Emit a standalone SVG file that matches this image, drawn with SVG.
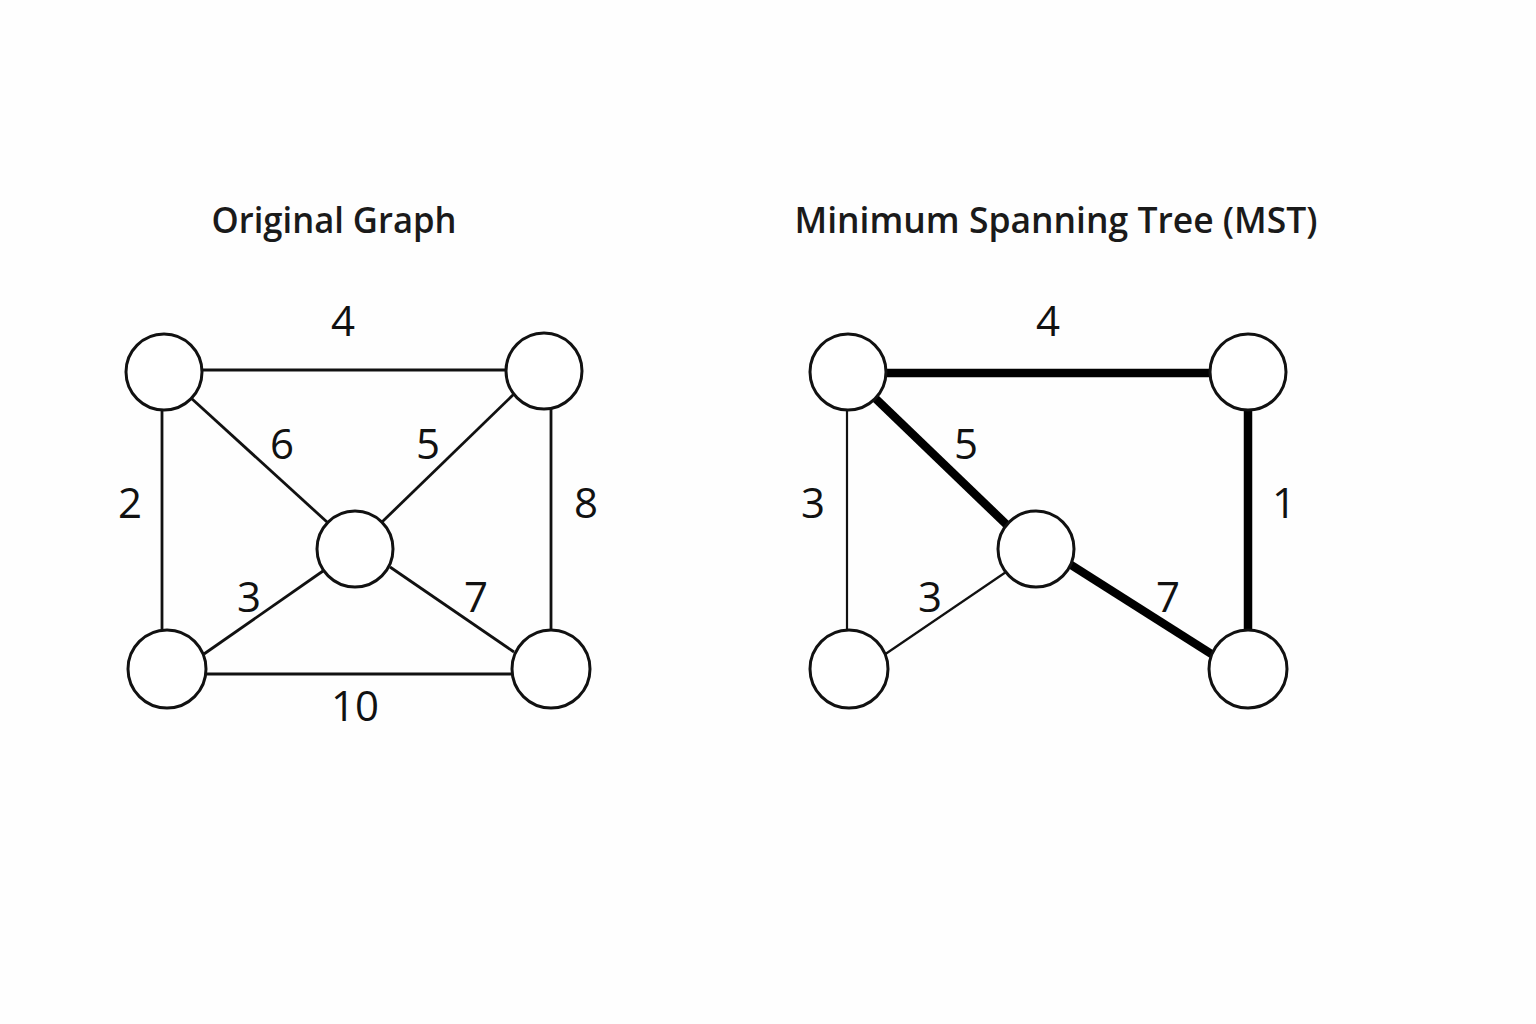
<svg xmlns="http://www.w3.org/2000/svg" width="1536" height="1024" viewBox="0 0 1536 1024">
<style>
.title{font-family:"Open Sans","Noto Sans",sans-serif;font-weight:600;font-size:36px;fill:#1a1a1a;text-anchor:middle}
.lbl{font-family:"Open Sans","Noto Sans",sans-serif;font-size:42px;fill:#111;text-anchor:middle}
.node{fill:#fff;stroke:#111;stroke-width:3}
.e{stroke:#111;stroke-width:2.8;fill:none}
.thin{stroke:#111;stroke-width:2.2;fill:none}
.thick{stroke:#000;stroke-width:8.5;fill:none}
</style>
<rect width="1536" height="1024" fill="#fefefe"/>
<text class="title" x="334" y="233" textLength="245" lengthAdjust="spacingAndGlyphs">Original Graph</text>
<text class="title" x="1056" y="233" textLength="523" lengthAdjust="spacingAndGlyphs">Minimum Spanning Tree (MST)</text>
<g id="connectors">
<line class="e" x1="202" y1="370" x2="506" y2="370"/>
<line class="e" x1="162" y1="409" x2="162" y2="632"/>
<line class="e" x1="551" y1="409" x2="551" y2="632"/>
<line class="e" x1="206" y1="674" x2="513" y2="674"/>
<line class="e" x1="191" y1="398" x2="327" y2="522"/>
<line class="e" x1="514" y1="394" x2="382" y2="522"/>
<line class="e" x1="204" y1="654" x2="323" y2="571"/>
<line class="e" x1="514" y1="652" x2="390" y2="567"/>
<line class="thick" x1="886" y1="373" x2="1210" y2="373"/>
<line class="thick" x1="1248" y1="409" x2="1248" y2="632"/>
<line class="thick" x1="875" y1="398" x2="1008" y2="526"/>
<line class="thick" x1="1068" y1="563" x2="1213" y2="655"/>
<line class="thin" x1="847" y1="410" x2="847" y2="632"/>
<line class="thin" x1="884" y1="655" x2="1006" y2="572"/>
</g>
<g id="n1"><circle class="node" cx="164" cy="372" r="38"/></g>
<g id="n2"><circle class="node" cx="544" cy="371" r="38"/></g>
<g id="n3"><circle class="node" cx="355" cy="549" r="38"/></g>
<g id="n4"><circle class="node" cx="167" cy="669" r="39"/></g>
<g id="n5"><circle class="node" cx="551" cy="669" r="39"/></g>
<g id="m1"><circle class="node" cx="848" cy="372" r="38"/></g>
<g id="m2"><circle class="node" cx="1248" cy="372" r="38"/></g>
<g id="m3"><circle class="node" cx="1036" cy="549" r="38"/></g>
<g id="m4"><circle class="node" cx="849" cy="669" r="39"/></g>
<g id="m5"><circle class="node" cx="1248" cy="669" r="39"/></g>
<g id="labels">
<text class="lbl" x="343" y="336">4</text>
<text class="lbl" x="282" y="459">6</text>
<text class="lbl" x="428" y="459">5</text>
<text class="lbl" x="130" y="518">2</text>
<text class="lbl" x="586" y="518">8</text>
<text class="lbl" x="249" y="612">3</text>
<text class="lbl" x="476" y="612">7</text>
<text class="lbl" x="355" y="721">10</text>
<text class="lbl" x="1048" y="336">4</text>
<text class="lbl" x="966" y="459">5</text>
<text class="lbl" x="813" y="518">3</text>
<text class="lbl" x="1284" y="518">1</text>
<text class="lbl" x="930" y="612">3</text>
<text class="lbl" x="1168" y="612">7</text>
</g>
</svg>
